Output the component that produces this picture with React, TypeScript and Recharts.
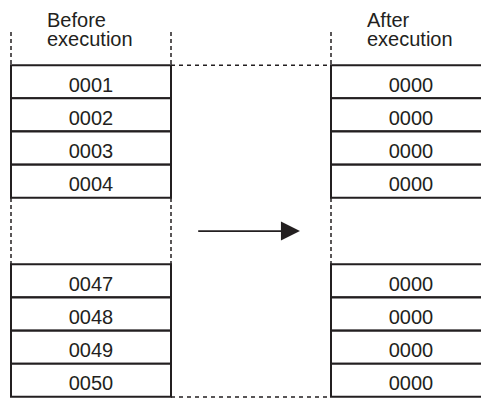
import { BarChart, Bar, XAxis, YAxis, ReferenceArea, LabelList } from 'recharts';

// register contents before / after the instruction runs
const headers = ['Before\nexecution', 'After\nexecution'];
const topRows = ['0001', '0002', '0003', '0004'];
const bottomRows = ['0047', '0048', '0049', '0050'];
const topAfter = ['0000', '0000', '0000', '0000'];
const bottomAfter = ['0000', '0000', '0000', '0000'];

const INK = '#231f20';
const FONT = '"Liberation Sans", Arial, Helvetica, sans-serif';

// every filled cell is one unit wide: before | (blank) | after
const cellRow = (before: string, after: string) => ({
  row: before,
  before,
  after,
  left: 1,
  mid: 1,
  right: 1,
});

const data = [
  { row: 'header' },
  ...topRows.map((v, i) => cellRow(v, topAfter[i])),
  { row: 'gap1' },
  { row: 'gap2' },
  ...bottomRows.map((v, i) => cellRow(v, bottomAfter[i])),
];

const headerTicks = [0.5, 2.5];

function HeaderTick({ x, y, payload }: any) {
  const idx = headerTicks.indexOf(payload.value);
  const lines = (headers[idx] ?? '').split('\n');
  const left = x - 44;
  return (
    <text x={left} y={y - 5.5} fill={INK} fontSize={20} fontFamily={FONT} textAnchor="start">
      {lines.map((l, i) => (
        <tspan key={i} x={left} dy={i === 0 ? 0 : 19.5}>
          {l}
        </tspan>
      ))}
    </text>
  );
}

// dashed left and right edges only
function Sides({ x, y, width, height }: any) {
  return (
    <g stroke={INK} strokeWidth={1.5} strokeDasharray="4 3">
      <line x1={x} y1={y} x2={x} y2={y + height} />
      <line x1={x + width} y1={y} x2={x + width} y2={y + height} />
    </g>
  );
}

// dashed top and bottom edges only
function Ends({ x, y, width, height }: any) {
  return (
    <g stroke={INK} strokeWidth={1.5} strokeDasharray="4 4">
      <line x1={x} y1={y} x2={x + width} y2={y} />
      <line x1={x} y1={y + height} x2={x + width} y2={y + height} />
    </g>
  );
}

function Arrow({ x, y, width, height }: any) {
  const cy = y + height / 2;
  const head = 19;
  return (
    <g>
      <line x1={x} y1={cy} x2={x + width - head + 2} y2={cy} stroke={INK} strokeWidth={1.6} />
      <polygon points={`${x + width - head},${cy - 9.5} ${x + width},${cy} ${x + width - head},${cy + 9.5}`} fill={INK} />
    </g>
  );
}

export default function App() {
  return (
    <div
      style={{
        position: 'absolute',
        left: 0,
        top: 0,
        width: 481,
        height: 399,
        overflow: 'hidden',
        background: '#fff',
        fontFamily: FONT,
      }}
    >
      <BarChart
        width={500}
        height={399}
        data={data}
        layout="vertical"
        barCategoryGap={0}
        margin={{ top: 2, right: 9, left: 11, bottom: 2 }}
      >
        <XAxis
          type="number"
          orientation="top"
          domain={[0, 3]}
          ticks={headerTicks}
          height={30}
          axisLine={false}
          tickLine={false}
          tickSize={0}
          tickMargin={0}
          tick={<HeaderTick />}
          interval={0}
        />
        <YAxis type="category" dataKey="row" hide />
        <Bar dataKey="left" stackId="cells" fill="#fff" stroke={INK} strokeWidth={2} isAnimationActive={false}>
          <LabelList dataKey="before" position="center" dy={3} fill={INK} fontSize={20} fontFamily={FONT} />
        </Bar>
        <Bar dataKey="mid" stackId="cells" fill="none" stroke="none" isAnimationActive={false} />
        <Bar dataKey="right" stackId="cells" fill="#fff" stroke={INK} strokeWidth={2} isAnimationActive={false}>
          <LabelList dataKey="after" position="center" dy={3} fill={INK} fontSize={20} fontFamily={FONT} />
        </Bar>
        <ReferenceArea x1={0} x2={1} y1="header" y2="header" shape={Sides} fill="none" />
        <ReferenceArea x1={2} x2={3} y1="header" y2="header" shape={Sides} fill="none" />
        <ReferenceArea x1={0} x2={1} y1="gap1" y2="gap2" shape={Sides} fill="none" />
        <ReferenceArea x1={2} x2={3} y1="gap1" y2="gap2" shape={Sides} fill="none" />
        <ReferenceArea x1={1} x2={2} y1={topRows[0]} y2={bottomRows[bottomRows.length - 1]} shape={Ends} fill="none" />
        <ReferenceArea x1={1.17} x2={1.806} y1="gap1" y2="gap2" shape={Arrow} fill="none" />
      </BarChart>
    </div>
  );
}
